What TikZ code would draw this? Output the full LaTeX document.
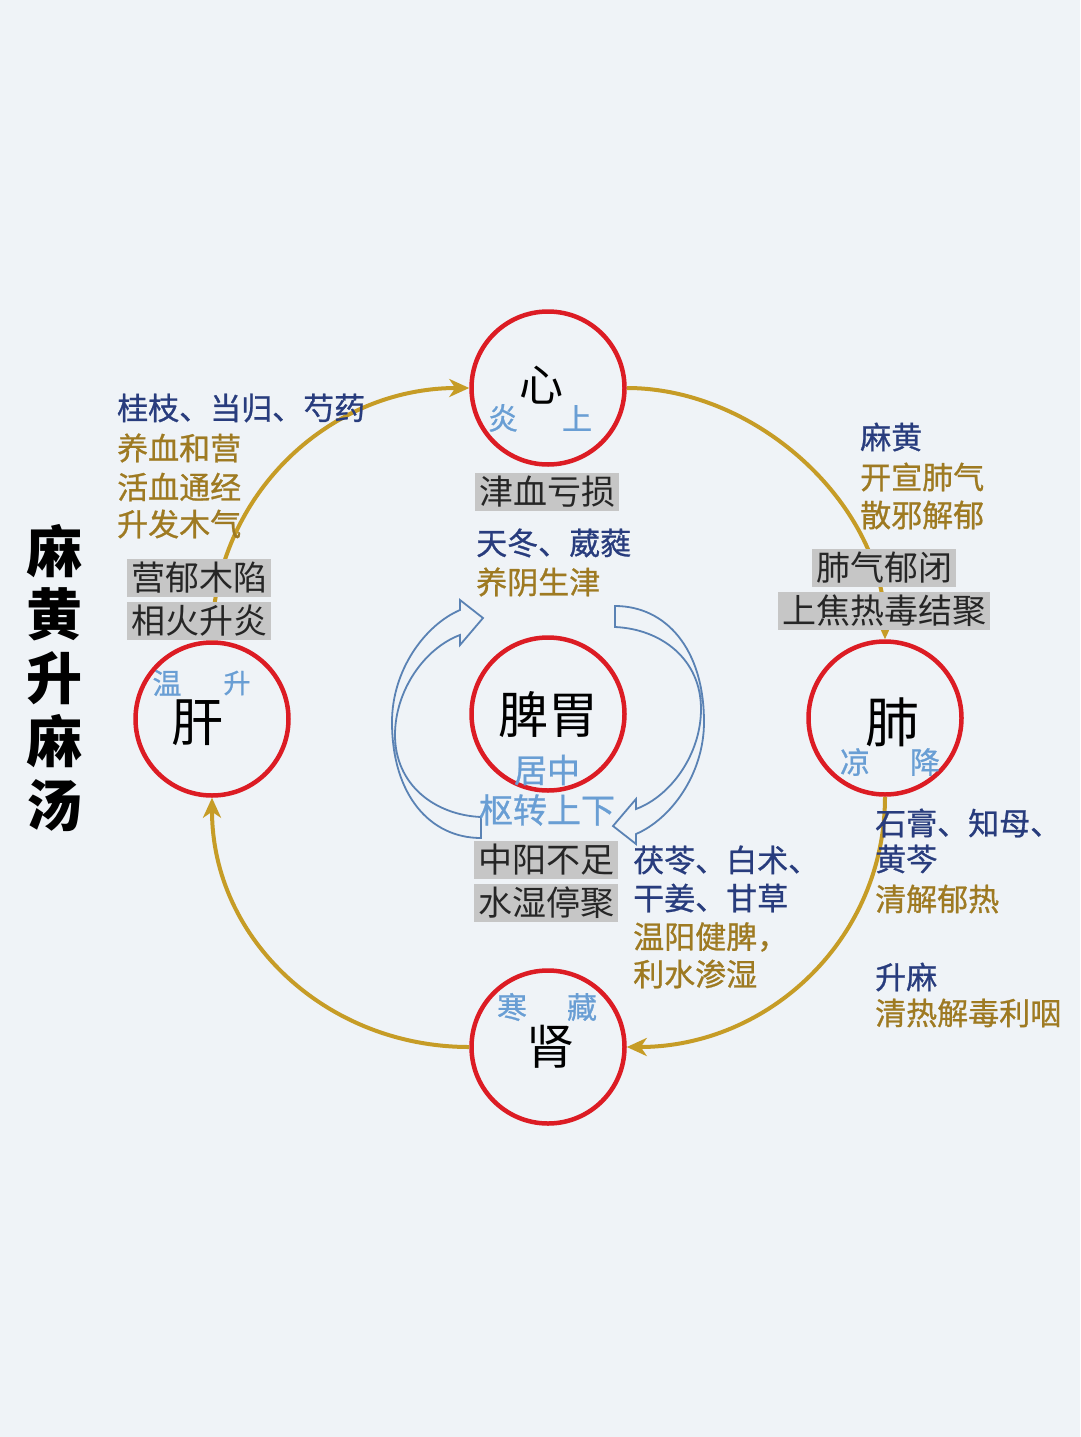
\documentclass[tikz,border=0pt]{standalone}
\usepackage{fontspec}
\newfontfamily\cjk{Noto Sans CJK SC}
\newfontfamily\cjkh[FakeBold=0.8]{Noto Sans CJK SC}
\usetikzlibrary{arrows.meta}
\definecolor{herbblue}{RGB}{40,60,125}
\definecolor{effgold}{RGB}{158,122,34}
\definecolor{lblue}{RGB}{105,158,212}
\definecolor{arcgold}{RGB}{198,156,38}
\definecolor{cred}{RGB}{220,28,36}
\definecolor{boxgray}{RGB}{198,198,198}
\definecolor{arrowblue}{RGB}{90,130,180}
\definecolor{bgc}{RGB}{239,243,247}
\tikzset{
  organc/.style={circle, draw=cred, line width=4.5pt, minimum size=153pt, inner sep=0pt},
  goldarc/.style={draw=arcgold, line width=4pt, -{Stealth[length=20pt,width=18pt,inset=6pt]}},
  qiarrow/.style={draw=arrowblue, line width=1.8pt, line join=miter},
  herbline/.style={font={\cjkh\fontsize{31pt}{31pt}\selectfont}, inner sep=0pt, anchor=west, text=herbblue},
  effline/.style={font={\cjkh\fontsize{31pt}{31pt}\selectfont}, inner sep=0pt, anchor=west, text=effgold},
  graybox/.style={font={\cjk\fontsize{34pt}{34pt}\selectfont}, fill=boxgray, text=black!85, inner xsep=4pt, inner ysep=0pt, minimum height=38pt},
  qilabel/.style={font={\cjkh\fontsize{#1pt}{#1pt}\selectfont}, inner sep=0pt, text=lblue},
  organtext/.style={font={\cjk\fontsize{#1pt}{#1pt}\selectfont}, inner sep=0pt, text=black},
  titletext/.style={font={\cjk\bfseries\fontsize{56pt}{63.5pt}\selectfont}, inner sep=0pt, align=center, text=black}
}
\begin{document}
\begin{tikzpicture}[x=1pt,y=-1pt]
\fill[bgc] (0,0) rectangle (1080,1437);
\useasboundingbox (0,0) rectangle (1080,1437);

% organ circles
\node[organc] (xin) at (548,388) {};
\node[organc] (gan) at (212,719) {};
\node[organc] (piwei) at (548,714) {};
\node[organc] (fei) at (885,718) {};
\node[organc] (shen) at (548,1047) {};

% gold cycle arcs
\draw[goldarc] (gan.north) .. controls +(0,-142) and +(-142,0) .. (xin.west);
\draw[goldarc] (xin.east) .. controls +(132,0) and +(0,-132) .. (fei.north);
\draw[goldarc] (fei.south) .. controls +(0,142) and +(142,0) .. (shen.east);
\draw[goldarc] (shen.west) .. controls +(-142,0) and +(0,142) .. (gan.south);

% blue curved arrows around the centre
\draw[qiarrow] (481,838) .. controls (430,838) and (392,795) .. (392,722)
  .. controls (392,670) and (425,625) .. (460,610) -- (460,600) -- (483,618) -- (460,645) -- (460,635)
  .. controls (425,648) and (395,690) .. (395,735) .. controls (395,785) and (435,815) .. (481,817) -- cycle;
\begin{scope}[rotate around={180:(548,722)}]
\draw[qiarrow] (481,838) .. controls (430,838) and (392,795) .. (392,722)
  .. controls (392,670) and (425,625) .. (460,610) -- (460,600) -- (483,618) -- (460,645) -- (460,635)
  .. controls (425,648) and (395,690) .. (395,735) .. controls (395,785) and (435,815) .. (481,817) -- cycle;
\end{scope}

% gray boxes
\node[graybox] (b1) at (199,578) {营郁木陷};
\node[graybox] (b2) at (199,621) {相火升炎};
\node[graybox] (b3) at (547,492) {津血亏损};
\node[graybox] (b4) at (884,568) {肺气郁闭};
\node[graybox] (b5) at (884,611) {上焦热毒结聚};
\node[graybox] (b6) at (546,860) {中阳不足};
\node[graybox] (b7) at (546,903) {水湿停聚};

% organ texts
\node[organtext=44] (xint) at (541,385) {心};
\node[qilabel=30] (yan) at (503,418) {炎};
\node[qilabel=30] (shang) at (577,418) {上};
\node[organtext=52] (gant) at (197,723) {肝};
\node[qilabel=29] (wen) at (167,683) {温};
\node[qilabel=27] (sheng) at (237,683) {升};
\node[organtext=54] (feit) at (892,722) {肺};
\node[qilabel=30] (liang) at (855,762) {凉};
\node[qilabel=30] (jiang) at (925,762) {降};
\node[organtext=50] (piweit) at (548,715) {脾胃};
\node[qilabel=33] (juzhong) at (547,770) {居中};
\node[qilabel=34] (shuzhuan) at (547,810) {枢转上下};
\node[qilabel=30] (han) at (512,1007) {寒};
\node[qilabel=30] (cang) at (582,1007) {藏};
\node[organtext=48] (shent) at (550,1047) {肾};

% herb texts
\node[herbline] (h1) at (117,408) {桂枝、当归、芍药};
\node[effline] (e1) at (117,448) {养血和营};
\node[effline] (e2) at (117,487) {活血通经};
\node[effline] (e3) at (117,524) {升发木气};

\node[herbline] (h2) at (476,543) {天冬、葳蕤};
\node[effline] (e4) at (476,582) {养阴生津};

\node[herbline] (h3) at (860,437) {麻黄};
\node[effline] (e5) at (860,477) {开宣肺气};
\node[effline] (e6) at (860,515) {散邪解郁};

\node[herbline] (h4) at (633,860) {茯苓、白术、};
\node[herbline] (h5) at (633,898) {干姜、甘草};
\node[effline] (e7) at (633,937) {温阳健脾，};
\node[effline] (e8) at (633,974) {利水渗湿};

\node[herbline] (h6) at (875,823) {石膏、知母、};
\node[herbline] (h7) at (875,859) {黄芩};
\node[effline] (e9) at (875,899) {清解郁热};
\node[herbline] (h8) at (875,977) {升麻};
\node[effline] (e10) at (875,1013) {清热解毒利咽};

% title
\node[titletext] (title) at (54,678) {麻\\黄\\升\\麻\\汤};
\end{tikzpicture}
\end{document}
